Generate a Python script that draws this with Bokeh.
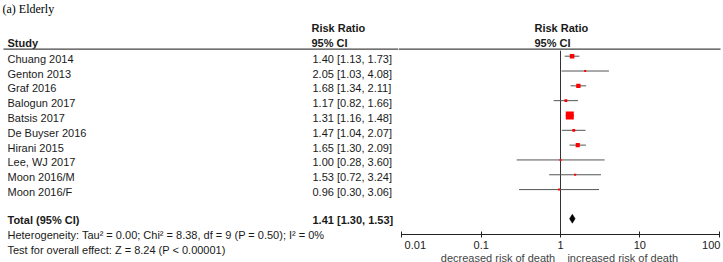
import math
from bokeh.plotting import figure
from bokeh.layouts import row
from bokeh.models import Range1d, FixedTicker, ColumnDataSource
from bokeh.core.properties import value
from bokeh.embed import file_html
from bokeh.resources import INLINE

# ---------------- data ----------------
studies = ["Chuang 2014", "Genton 2013", "Graf 2016", "Balogun 2017", "Batsis 2017",
           "De Buyser 2016", "Hirani 2015", "Lee, WJ 2017", "Moon 2016/M", "Moon 2016/F"]
rr = [1.40, 2.05, 1.68, 1.17, 1.31, 1.47, 1.65, 1.00, 1.53, 0.96]
ci_lo = [1.13, 1.03, 1.34, 0.82, 1.16, 1.04, 1.30, 0.28, 0.72, 0.30]
ci_hi = [1.73, 4.08, 2.11, 1.66, 1.48, 2.07, 2.09, 3.60, 3.24, 3.06]
weights = [14.9, 1.4, 13.1, 5.4, 45.4, 5.7, 12.0, 0.4, 1.2, 0.5]
total_rr, total_lo, total_hi = 1.41, 1.30, 1.53
tick_values = [0.01, 0.1, 1, 10, 100]
tick_labels = ["0.01", "0.1", "1", "10", "100"]
title = "(a) Elderly"
het_text = "Heterogeneity: Tau\u00b2 = 0.00; Chi\u00b2 = 8.38, df = 9 (P = 0.50); I\u00b2 = 0%"
test_text = "Test for overall effect: Z = 8.24 (P < 0.00001)"
left_dir = "decreased risk of death"
right_dir = "increased risk of death"

# ---------------- layout constants (pixels) ----------------
W, H = 723, 262
SPLIT = 398            # left text panel | forest panel
AXIS_Y = 234
ROW0, ROW_STEP = 58.2, 14.82
MARK_DY = -2.5
X_ONE, DECADE = 560.0, 79.3
FONT = value("Liberation Sans")
TXT = "#1a1a1a"
LINE = "#555555"
RULE = "#444444"
NB = "\u00a0"


def px(p):
    """horizontal page pixel -> value on the log axis of the forest panel"""
    return 10 ** ((p - X_ONE) / DECADE)


def fmt(v, l, h):
    return f"{v:.2f} [{l:.2f}, {h:.2f}]"


row_y = [ROW0 + ROW_STEP * i for i in range(len(studies))]
mark_y = [y + MARK_DY for y in row_y]
TOTAL_Y, HET_Y, TEST_Y = 219.0, 234.0, 249.0
HEAD1_Y, HEAD2_Y, RULE_Y = 27.3, 42.3, 48.7


def base_fig(**kw):
    f = figure(toolbar_location=None, output_backend="svg", frame_align=False,
               min_border_left=0, min_border_right=0, min_border_top=0, **kw)
    f.grid.visible = False
    f.outline_line_color = None
    f.background_fill_color = "white"
    f.border_fill_color = "white"
    return f


# ---------------- left (text) panel ----------------
p1 = base_fig(width=SPLIT, height=H, x_range=Range1d(0, SPLIT), y_range=Range1d(H, 0),
              x_axis_location=None, y_axis_location=None, min_border_bottom=0)

p1.text(x=[2], y=[8], text=[title], text_font=value("Liberation Serif"),
        text_font_size="12px", text_color="black", text_baseline="middle")

bold_src = ColumnDataSource(dict(
    x=[7, 311, 311, 7, 312],
    y=[HEAD2_Y, HEAD1_Y, HEAD2_Y, TOTAL_Y, TOTAL_Y],
    t=["Study", "Risk Ratio", "95% CI", "Total (95% CI)", fmt(total_rr, total_lo, total_hi)]))
p1.text(x="x", y="y", text="t", source=bold_src, text_font=FONT, text_font_size="11px",
        text_font_style="bold", text_color=TXT, text_baseline="middle")

reg_src = ColumnDataSource(dict(
    x=[7] * len(studies) + [312] * len(studies) + [7, 7],
    y=row_y + row_y + [HET_Y, TEST_Y],
    t=studies + [fmt(a, b, c) for a, b, c in zip(rr, ci_lo, ci_hi)] + [het_text, test_text]))
p1.text(x="x", y="y", text="t", source=reg_src, text_font=FONT, text_font_size="11px",
        text_color=TXT, text_baseline="middle")

p1.segment(x0=[3], y0=[RULE_Y], x1=[SPLIT], y1=[RULE_Y], line_color=RULE, line_width=1.2)

# ---------------- right (forest) panel ----------------
p2 = base_fig(frame_width=W - SPLIT, frame_height=AXIS_Y, x_axis_type="log",
              x_range=Range1d(px(SPLIT), px(W)), y_range=Range1d(AXIS_Y, 0),
              y_axis_location=None, min_border_bottom=0)

ax = p2.xaxis[0]
ax.ticker = FixedTicker(ticks=tick_values)
ax.major_label_overrides = {
    0.01: NB * 2 + tick_labels[0],
    0.1: tick_labels[1], 1: tick_labels[2], 10: tick_labels[3],
    100: tick_labels[4] + NB,
}
ax.bounds = (tick_values[0], tick_values[-1])
ax.axis_line_color = "#222222"
ax.major_tick_line_color = "#222222"
ax.minor_tick_line_color = None
ax.major_tick_in = 3
ax.major_tick_out = 3
ax.major_label_standoff = 1
ax.major_label_text_font = "Liberation Sans"
ax.major_label_text_font_size = "11px"
ax.major_label_text_color = TXT
ax.axis_label = left_dir + NB * 4 + right_dir + NB
ax.axis_label_standoff = -2
ax.axis_label_text_font = "Liberation Sans"
ax.axis_label_text_font_size = "11px"
ax.axis_label_text_font_style = "normal"
ax.axis_label_text_color = "#444444"

# header rule and headers
p2.segment(x0=[px(SPLIT)], y0=[RULE_Y], x1=[px(720)], y1=[RULE_Y], line_color=RULE, line_width=1.2)
p2.text(x=[px(534)] * 2, y=[HEAD1_Y, HEAD2_Y], text=["Risk Ratio", "95% CI"],
        text_font=FONT, text_font_size="11px", text_font_style="bold",
        text_color=TXT, text_baseline="middle")

# line of no effect
p2.segment(x0=[1], y0=[RULE_Y + 1.5], x1=[1], y1=[AXIS_Y], line_color="#333333", line_width=1)

# CIs and squares
src = ColumnDataSource(dict(rr=rr, lo=ci_lo, hi=ci_hi, y=mark_y,
                            size=[max(2.0, 1.19 * math.sqrt(w)) for w in weights]))
p2.segment(x0="lo", y0="y", x1="hi", y1="y", source=src, line_color=LINE, line_width=1)
p2.scatter(x="rr", y="y", size="size", marker="square", source=src,
           fill_color="red", line_color=None)

# total diamond
p2.patch(x=[total_lo, total_rr, total_hi, total_rr],
         y=[TOTAL_Y - 0.8, TOTAL_Y - 5.3, TOTAL_Y - 0.8, TOTAL_Y + 3.7],
         fill_color="black", line_color="black", line_width=0.5)

layout = row(p1, p2)
open("out.html", "w").write(file_html(layout, INLINE))
